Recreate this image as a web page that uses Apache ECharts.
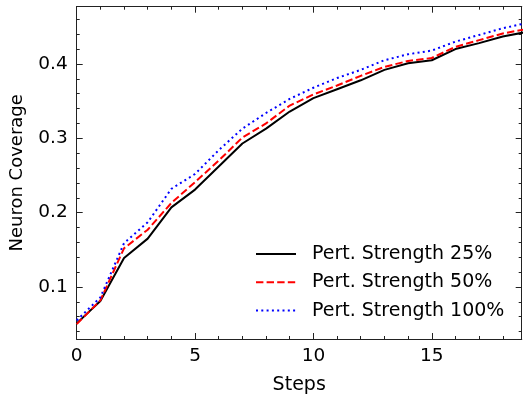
<!DOCTYPE html>
<html>
<head>
<meta charset="utf-8">
<script src="https://cdn.jsdelivr.net/npm/echarts@6/dist/echarts.min.js"></script>
<style>html,body{margin:0;padding:0;background:#fff;}#c{width:523px;height:398px;}</style>
</head>
<body>
<div id="c"></div>
<script>
const steps = [0,1,2,3,4,5,6,7,8,9,10,11,12,13,14,15,16,17,18,19];
const s25 = [0.051,0.081,0.139,0.165,0.207,0.231,0.262,0.293,0.313,0.336,0.354,0.366,0.378,0.392,0.401,0.405,0.420,0.428,0.437,0.443];
const s50 = [0.050,0.082,0.152,0.177,0.213,0.241,0.270,0.301,0.320,0.344,0.359,0.371,0.384,0.396,0.404,0.408,0.423,0.432,0.441,0.447];
const s100 = [0.055,0.086,0.159,0.187,0.232,0.252,0.284,0.313,0.334,0.353,0.368,0.381,0.392,0.405,0.413,0.418,0.430,0.439,0.448,0.455];
const seriesNames = ['Pert. Strength 25%','Pert. Strength 50%','Pert. Strength 100%'];
const xMajor = [0,5,10,15];
const xMinor = [1,2,3,4,6,7,8,9,11,12,13,14,16,17,18];
const yMajor = [0.1,0.2,0.3,0.4];
const yMinor = [0.04,0.06,0.08,0.12,0.14,0.16,0.18,0.22,0.24,0.26,0.28,0.32,0.34,0.36,0.38,0.42,0.44,0.46];
const xRange = [0, 18.8];
const yRange = [0.03, 0.477];

const FONT = 'DejaVu Sans';
const AX = '#222';
function pairs(v){ return steps.map((s,i)=>[s,v[i]]); }
function xAx(pos, ticks, len, labels, name){
  return {type:'value', position:pos, min:xRange[0], max:xRange[1],
    name:name||'', nameLocation:'middle', nameGap:37,
    nameTextStyle:{fontFamily:FONT,fontSize:19,color:'#000'},
    axisLine:{show:true,onZero:false,lineStyle:{color:AX,width:1}},
    axisTick:{show:true,inside:true,length:len,customValues:ticks,lineStyle:{color:AX,width:1}},
    axisLabel:{show:labels,customValues:ticks,margin:8,fontFamily:FONT,fontSize:18.5,color:'#000'},
    splitLine:{show:false}};
}
function yAx(pos, ticks, len, labels, name){
  return {type:'value', position:pos, min:yRange[0], max:yRange[1],
    name:name||'', nameLocation:'middle', nameGap:50, nameRotate:90,
    nameTextStyle:{fontFamily:FONT,fontSize:18,color:'#000'},
    axisLine:{show:true,onZero:false,lineStyle:{color:AX,width:1}},
    axisTick:{show:true,inside:true,length:len,customValues:ticks,lineStyle:{color:AX,width:1}},
    axisLabel:{show:labels,customValues:ticks,margin:9,fontFamily:FONT,fontSize:18.5,color:'#000',
      formatter:v=>v.toFixed(1)},
    splitLine:{show:false}};
}
const chart = echarts.init(document.getElementById('c'), null, {renderer:'canvas'});
chart.setOption({
  animation:false,
  backgroundColor:'#fff',
  grid:{left:76.7,right:1.3,top:6.7,bottom:59,containLabel:false,outerBoundsMode:'none'},
  xAxis:[
    xAx('bottom', xMajor, 6, true, 'Steps'),
    xAx('bottom', xMinor, 3, false),
    xAx('top', xMajor, 6, false),
    xAx('top', xMinor, 3, false)
  ],
  yAxis:[
    yAx('left', yMajor, 6, true, 'Neuron Coverage'),
    yAx('left', yMinor, 3, false),
    yAx('right', yMajor, 6, false),
    yAx('right', yMinor, 3, false)
  ],
  legend:{
    orient:'vertical', left:255, top:244.5, padding:0,
    itemWidth:40, itemHeight:14, itemGap:9.3,
    itemStyle:{color:'rgba(0,0,0,0)',borderWidth:0,borderColor:'rgba(0,0,0,0)'},
    textStyle:{fontFamily:FONT,fontSize:19,color:'#000',lineHeight:19,padding:[0,0,0,11]},
    data:seriesNames
  },
  series:[
    {name:seriesNames[0],type:'line',data:pairs(s25),symbol:'none',
      lineStyle:{color:'#000',width:2,type:'solid'},itemStyle:{color:'#000'}},
    {name:seriesNames[1],type:'line',data:pairs(s50),symbol:'none',
      lineStyle:{color:'#ff0000',width:2,type:[7.4,3.2],cap:'butt'},itemStyle:{color:'#ff0000'}},
    {name:seriesNames[2],type:'line',data:pairs(s100),symbol:'none',
      lineStyle:{color:'#0000ff',width:2,type:[2,3.3],cap:'butt'},itemStyle:{color:'#0000ff'}}
  ]
});
</script>
</body>
</html>
